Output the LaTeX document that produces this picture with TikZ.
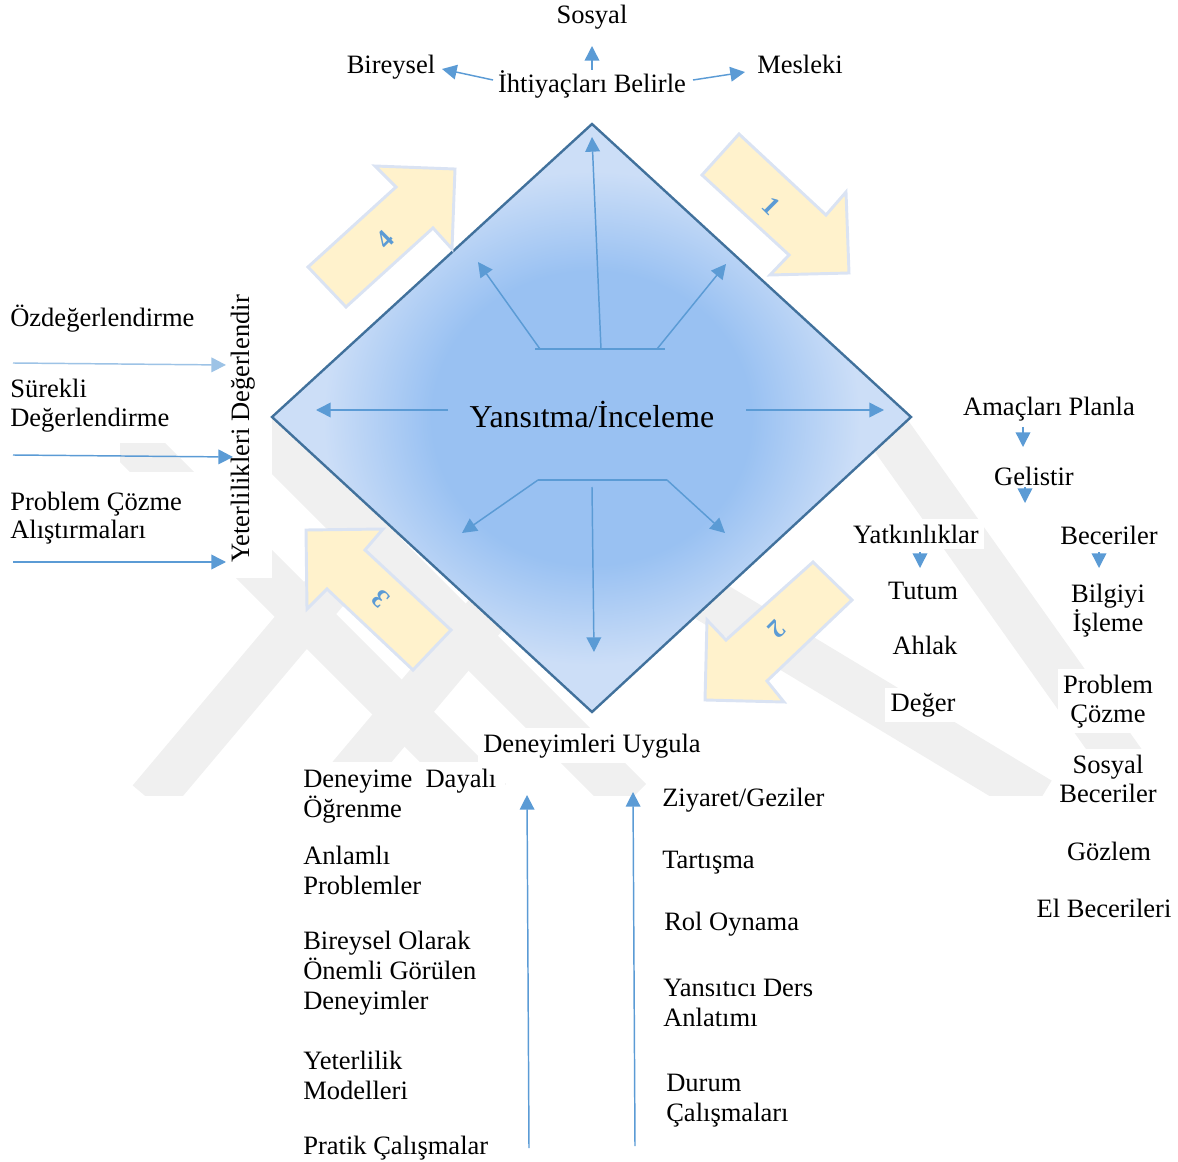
\documentclass[tikz,border=0pt]{standalone}
\usepackage{fontspec}
\setmainfont{Liberation Serif}
\usetikzlibrary{arrows.meta}

\definecolor{linkblue}{HTML}{5B9BD5}
\definecolor{paleblue}{HTML}{9DC3E6}
\definecolor{rimblue}{HTML}{41719C}
\definecolor{cream}{HTML}{FFF2CC}
\definecolor{creamrim}{HTML}{DAE3F3}
\definecolor{glowin}{HTML}{99C1F2}
\definecolor{glowout}{HTML}{CCDEF7}
\definecolor{markgray}{HTML}{F0F0F0}

% the middle 50bp square of a shading covers the shaded path
\pgfdeclareradialshading{glow}{\pgfpoint{0bp}{0bp}}{color(0bp)=(glowin); color(12.5bp)=(glowin); color(21bp)=(glowout); color(50bp)=(glowout)}

\newcommand{\bodysize}{\fontsize{19.9pt}{22.1pt}\selectfont}
\newcommand{\centersize}{\fontsize{23.9pt}{26pt}\selectfont}
% stacked lines with a fixed baseline distance; the box baseline is the first line
\newcommand{\leftstack}[2][22.1pt]{\vtop{\baselineskip=#1\relax\lineskiplimit=-100pt\halign{##\hfil\cr#2\crcr}}}
\newcommand{\midstack}[2][21.8pt]{\vtop{\baselineskip=#1\relax\lineskiplimit=-100pt\halign{\hfil##\hfil\cr#2\crcr}}}

\begin{document}
\begin{tikzpicture}[x=0.75pt,y=-0.75pt,
  txt/.style={font=\bodysize, inner sep=4pt, fill=white},
  ltxt/.style={font=\bodysize, inner ysep=4pt, inner xsep=0pt, anchor=base west},
  arr/.style={draw=linkblue, line width=1.1pt, -{Triangle[length=11pt,width=11pt]}},
  palearr/.style={arr, draw=paleblue, -{Triangle[length=11pt,width=11pt,fill=paleblue]}},
  blockarrow/.style={fill=cream, draw=creamrim, line width=2.2pt, line join=miter},
  digit/.style={font=\bodysize\bfseries, text=linkblue, inner sep=0pt},
  band/.style={draw=markgray, line width=34pt, line cap=butt}]
\useasboundingbox (0,0) rectangle (1178,1162);

% faint background emblem
\begin{scope}
  \clip (120,420) rectangle (1150,795);
  \draw[band] (150,800) -- (470,420);
  \draw[band] (330,800) -- (650,420);
  \draw[band] (120,430) -- (490,800);
  \draw[band] (250,420) -- (630,800);
  \draw[band] (700,595) -- (1040,800);
  \draw[band] (880,420) -- (1150,800);
\end{scope}
% white text panels
\fill[white] (0,290) rectangle (228,443);
\fill[white] (0,472) rectangle (228,578);
\fill[white] (228,285) rectangle (272,578);
\fill[white] (290,762) rectangle (505,800);
\fill[white] (650,778) rectangle (840,800);

% central diamond
\coordinate (dT) at (592,124);
\coordinate (dR) at (911,417);
\coordinate (dB) at (592,712);
\coordinate (dL) at (272,417);
\shade[shading=glow] (dT) -- (dR) -- (dB) -- (dL) -- cycle;
\draw[rimblue, line width=1.8pt, line join=miter] (dT) -- (dR) -- (dB) -- (dL) -- cycle;
\node[font=\centersize, anchor=base, inner sep=2pt] (core) at (592,428) {Yansıtma/İnceleme};

% arrows inside the diamond
\coordinate (uL) at (535,349);
\coordinate (uR) at (665,349);
\coordinate (uM) at (601,349);
\coordinate (uLs) at (540,349);
\coordinate (uRs) at (657,349);
\coordinate (uTop) at (592,137);
\coordinate (uLt) at (478,262);
\coordinate (uRt) at (726,264);
\draw[linkblue, line width=1.1pt] (uL) -- (uR);
\draw[arr] (uM) -- (uTop);
\draw[arr] (uLs) -- (uLt);
\draw[arr] (uRs) -- (uRt);

\coordinate (mL0) at (448,410);
\coordinate (mLt) at (316,410);
\coordinate (mR0) at (746,410);
\coordinate (mRt) at (884,410);
\draw[arr] (mL0) -- (mLt);
\draw[arr] (mR0) -- (mRt);

\coordinate (bL) at (538,480);
\coordinate (bR) at (667,480);
\coordinate (bM) at (592,487);
\coordinate (bLt) at (462,533);
\coordinate (bRt) at (725,533);
\coordinate (bBt) at (594,652);
\draw[linkblue, line width=1.1pt] (bL) -- (bR);
\draw[arr] (bL) -- (bLt);
\draw[arr] (bR) -- (bRt);
\draw[arr] (bM) -- (bBt);

% numbered block arrows around the diamond
\draw[blockarrow] (739,134) -- (702,175) -- (789,255) -- (770,275) -- (849,273) -- (846,192) -- (826,215) -- cycle;
\draw[blockarrow] (813,562) -- (852,600) -- (767,681) -- (784,702) -- (705,700) -- (707,620) -- (726,640) -- cycle;
\draw[blockarrow] (306,530) -- (383,529) -- (365,550) -- (451,630) -- (413,670) -- (327,589) -- (307,609) -- cycle;
\draw[blockarrow] (375,166) -- (455,169) -- (452,249) -- (433,228) -- (346,307) -- (308,267) -- (396,187) -- cycle;
\node[digit, rotate=-45] (n1) at (771,206) {1};
\node[digit, rotate=-135] (n2) at (777,629) {2};
\node[digit, rotate=135] (n3) at (381,599) {3};
\node[digit, rotate=45] (n4) at (385,240) {4};

% needs at the top
\node[txt, anchor=base] (sosyal) at (592,24) {Sosyal};
\node[txt, anchor=base] (ihtiyac) at (592,93) {İhtiyaçları Belirle};
\node[txt, anchor=base] (bireysel) at (391,74) {Bireysel};
\node[txt, anchor=base] (mesleki) at (800,74) {Mesleki};
\coordinate (tS0) at (592,70);
\coordinate (tSt) at (592,46);
\coordinate (tB0) at (493,80);
\coordinate (tBt) at (442,69);
\coordinate (tM0) at (693,80);
\coordinate (tMt) at (745,72);
\draw[arr] (tS0) -- (tSt);
\draw[arr] (tB0) -- (tBt);
\draw[arr] (tM0) -- (tMt);

% evaluation on the left
\node[ltxt] (ozd) at (10,327) {Özdeğerlendirme};
\node[ltxt] (surekli) at (10,398) {\leftstack[21.4pt]{Sürekli\cr Değerlendirme}};
\node[ltxt] (probL) at (10,510) {\leftstack[21.1pt]{Problem Çözme\cr Alıştırmaları}};
\node[font=\bodysize, inner sep=2pt, rotate=90, anchor=base] (yeter) at (249,429) {Yeterlilikleri Değerlendir};
\coordinate (l1a) at (13,363);
\coordinate (l1b) at (226,365);
\coordinate (l2a) at (13,455);
\coordinate (l2b) at (233,457);
\coordinate (l3a) at (13,562);
\coordinate (l3b) at (226,562);
\draw[palearr] (l1a) -- (l1b);
\draw[arr] (l2a) -- (l2b);
\draw[arr] (l3a) -- (l3b);

% planning on the right
\node[txt, anchor=base] (amac) at (1049,416) {Amaçları Planla};
\node[txt, anchor=base] (gelis) at (1034,485) {Gelistir};
\node[txt, anchor=base] (yatk) at (916,543) {Yatkınlıklar};
\node[txt, anchor=base] (tutum) at (923,599) {Tutum};
\node[txt, anchor=base] (ahlak) at (925,654) {Ahlak};
\node[txt, anchor=base] (deger) at (923,711) {Değer};
\node[txt, anchor=base] (becer) at (1109,544) {Beceriler};
\node[txt, anchor=base] (bilgi) at (1108,602) {\midstack{Bilgiyi\cr İşleme}};
\node[txt, anchor=base] (probR) at (1108,693) {\midstack{Problem\cr Çözme}};
\node[txt, anchor=base] (sosb) at (1108,773) {\midstack{Sosyal\cr Beceriler}};
\node[txt, anchor=base] (gozlem) at (1109,860) {Gözlem};
\node[txt, anchor=base] (elbec) at (1104,917) {El Becerileri};
\coordinate (r1a) at (1023,427);
\coordinate (r1b) at (1023,447);
\coordinate (r2a) at (1025,487);
\coordinate (r2b) at (1025,503);
\coordinate (r3a) at (920,552);
\coordinate (r3b) at (920,568);
\coordinate (r4a) at (1099,552);
\coordinate (r4b) at (1099,568);
\draw[arr] (r1a) -- (r1b);
\draw[arr] (r2a) -- (r2b);
\draw[arr] (r3a) -- (r3b);
\draw[arr] (r4a) -- (r4b);

% experiences at the bottom
\node[txt, anchor=base] (deney) at (592,752) {Deneyimleri Uygula};
\node[ltxt] (dda) at (303,787) {\leftstack[22.5pt]{Deneyime\ \ Dayalı\cr Öğrenme}};
\node[ltxt] (anl) at (303,864) {\leftstack[22.5pt]{Anlamlı\cr Problemler}};
\node[ltxt] (bor) at (303,949) {\leftstack[22.5pt]{Bireysel Olarak\cr Önemli Görülen\cr Deneyimler}};
\node[ltxt] (yet) at (303,1069) {\leftstack[22.5pt]{Yeterlilik\cr Modelleri}};
\node[ltxt] (pra) at (303,1154) {Pratik Çalışmalar};
\node[ltxt] (ziy) at (662,806) {Ziyaret/Geziler};
\node[ltxt] (tar) at (662,868) {Tartışma};
\node[ltxt] (rol) at (664,930) {Rol Oynama};
\node[ltxt] (yan) at (663,996) {\leftstack[22.5pt]{Yansıtıcı Ders\cr Anlatımı}};
\node[ltxt] (dur) at (666,1091) {\leftstack[22.5pt]{Durum\cr Çalışmaları}};
\coordinate (v1a) at (529,1148);
\coordinate (v1b) at (527,795);
\coordinate (v2a) at (635,1146);
\coordinate (v2b) at (633,792);
\draw[arr] (v1a) -- (v1b);
\draw[arr] (v2a) -- (v2b);
\end{tikzpicture}
\end{document}
